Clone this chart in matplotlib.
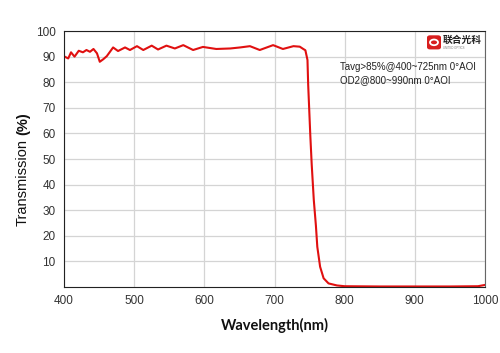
import matplotlib.pyplot as plt
from matplotlib.patches import FancyBboxPatch, Circle

# transmission curve
wavelength = [400, 401, 406, 410, 415, 421, 427, 432, 437, 442, 447, 451, 456, 461,
              470, 477, 487, 494, 504, 513, 525, 534, 546, 558, 570, 584, 598, 617,
              637, 651, 665, 679, 698, 712, 727, 736, 741, 744, 747, 748, 751, 753,
              756, 759, 761, 765, 770, 777, 789, 800, 850, 900, 950, 990, 1000]
transmission = [89.6, 90.0, 89.3, 91.7, 90.0, 92.3, 91.7, 92.6, 91.9, 93.0, 91.3, 88.0, 89.0, 90.2,
                93.6, 92.2, 93.6, 92.6, 94.1, 92.6, 94.3, 92.8, 94.3, 93.2, 94.5, 92.6, 93.8, 93.0,
                93.2, 93.6, 94.1, 92.6, 94.5, 93.0, 94.1, 93.9, 93.0, 92.5, 88.7, 79.0, 59.4, 48.0,
                34.0, 24.0, 15.7, 7.9, 3.4, 1.4, 0.6, 0.3, 0.2, 0.2, 0.2, 0.3, 0.8]

x_ticks = [400, 500, 600, 700, 800, 900, 1000]
y_ticks = [10, 20, 30, 40, 50, 60, 70, 80, 90, 100]
spec_lines = ["Tavg>85%@400~725nm 0°AOI", "OD2@800~990nm 0°AOI"]

plt.rcParams['font.family'] = ['Liberation Sans', 'DejaVu Sans']

fig = plt.figure(figsize=(5.0, 3.53), dpi=100)
ax = fig.add_axes([0.128, 0.187, 0.842, 0.725])

ax.plot(wavelength, transmission, color='#e01010', linewidth=1.5)

ax.set_xlim(400, 1000)
ax.set_ylim(0, 100)
ax.set_xticks(x_ticks)
ax.set_yticks(y_ticks)
ax.tick_params(length=0, labelsize=8.5, labelcolor='#333333', pad=6)
ax.grid(True, color='#d4d4d4', linewidth=0.9)
ax.set_axisbelow(True)
for side in ['left', 'bottom', 'top']:
    ax.spines[side].set_color('#222222')
ax.spines['right'].set_color('#666666')

ax.set_xlabel("Wavelength(nm)", fontsize=10.5, fontweight='bold',
              family=['Lato', 'DejaVu Sans'], labelpad=8, color='#111111')

# y label: "Transmission" plain, "(%)" bold
fig.text(0.046, 0.482, "Transmission", rotation=90, ha='center', va='center',
         fontsize=10.5, color='#111111')
fig.text(0.046, 0.651, "(%)", rotation=90, ha='center', va='center',
         fontsize=10.5, fontweight='bold', color='#111111')

ax.text(0.656, 0.848, spec_lines[0], transform=ax.transAxes, fontsize=7, color='#222222')
ax.text(0.656, 0.795, spec_lines[1], transform=ax.transAxes, fontsize=7, color='#222222')

# logo
logo = FancyBboxPatch((0.856, 0.862), 0.024, 0.036, boxstyle="round,pad=0.002,rounding_size=0.006",
                      transform=fig.transFigure, facecolor='#d81e1e', edgecolor='none')
fig.patches.append(logo)
fig.patches.append(Circle((0.868, 0.880), 0.008, transform=fig.transFigure,
                          facecolor='none', edgecolor='white', linewidth=1.3))
fig.text(0.885, 0.886, "联合光科", fontsize=7, fontweight='bold', color='#222222',
         family=['Noto Sans CJK SC', 'DejaVu Sans'], va='center', ha='left')
fig.text(0.886, 0.864, "UNITED OPTICS", fontsize=2, color='#777777', va='center', ha='left')

fig.savefig("out.png", dpi=100)
